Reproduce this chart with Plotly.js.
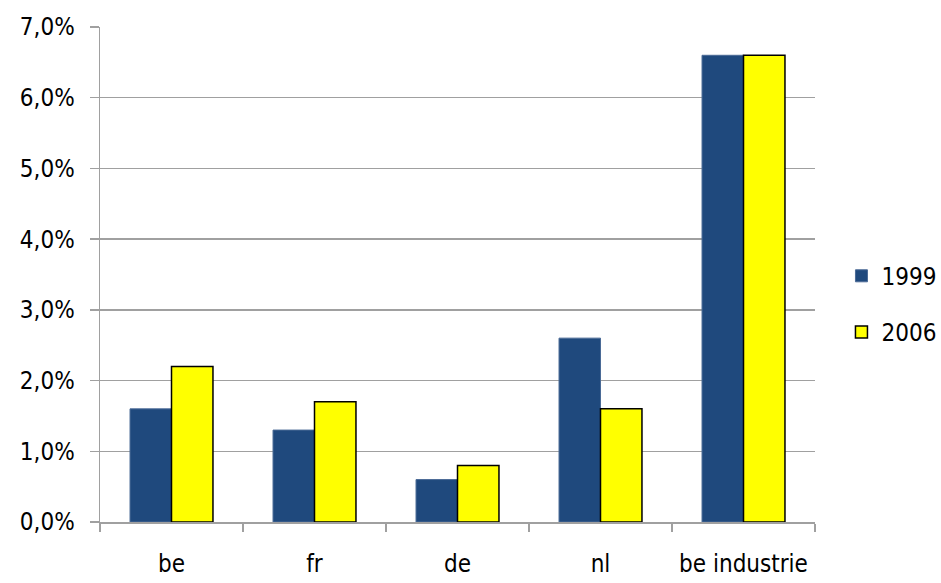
<!DOCTYPE html>
<html>
<head>
<meta charset="utf-8">
<script src="https://cdn.plot.ly/plotly-3.0.1.min.js"></script>
<style>
  html, body { margin: 0; padding: 0; background: #fff; }
  #chart { width: 941px; height: 583px; }
</style>
</head>
<body>
<div id="chart"></div>
<script>
// Categories and values (percent)
const categories = ['be', 'fr', 'de', 'nl', 'be industrie'];
const values1999 = [1.6, 1.3, 0.6, 2.6, 6.6];
const values2006 = [2.2, 1.7, 0.8, 1.6, 6.6];
const yTicks = [0, 1, 2, 3, 4, 5, 6, 7];
const yTickText = yTicks.map(v => v.toFixed(1).replace('.', ',') + '%');

const FONT = '"DejaVu Sans Condensed", "Liberation Sans Narrow", "Arial Narrow", sans-serif';

const traces = [
  {
    type: 'bar', name: '1999', x: categories, y: values1999,
    legendgroup: 'a',
    marker: { color: '#1f497d', line: { color: '#4a6a96', width: 1 } },
    hoverinfo: 'x+y'
  },
  {
    type: 'bar', name: '2006', x: categories, y: values2006,
    legendgroup: 'b',
    marker: { color: '#ffff00', line: { color: '#000000', width: 1.5 } },
    hoverinfo: 'x+y'
  }
];

const layout = {
  width: 941, height: 583,
  margin: { l: 100, r: 126, t: 27, b: 61, autoexpand: false },
  paper_bgcolor: '#ffffff', plot_bgcolor: '#ffffff',
  separators: ',.',
  font: { family: FONT, size: 24, color: '#000' },
  barmode: 'group', bargap: 0.42, bargroupgap: 0,
  showlegend: true,
  legend: {
    x: 1.037, xanchor: 'left', y: 0.44, yanchor: 'middle',
    font: { family: FONT, size: 24, color: '#000' },
    traceorder: 'grouped', tracegroupgap: 22,
    itemwidth: 30
  },
  xaxis: {
    type: 'category',
    showline: true, linecolor: '#a0a0a0', linewidth: 1.5,
    ticks: 'outside', tickson: 'boundaries', ticklen: 8, tickcolor: '#a0a0a0', tickwidth: 1.5,
    showgrid: false, ticklabelstandoff: 20,
    tickfont: { family: FONT, size: 24 }
  },
  yaxis: {
    range: [0, 7], tickvals: yTicks, ticktext: yTickText,
    showline: true, linecolor: '#a0a0a0', linewidth: 1.5,
    ticks: 'outside', ticklen: 9, tickcolor: '#a0a0a0', tickwidth: 1.5,
    showgrid: true, gridcolor: '#a0a0a0', gridwidth: 1.5,
    zeroline: false, ticklabelstandoff: 10,
    tickfont: { family: FONT, size: 24 }
  }
};

Plotly.newPlot('chart', traces, layout, { displayModeBar: false, staticPlot: true });
</script>
</body>
</html>
